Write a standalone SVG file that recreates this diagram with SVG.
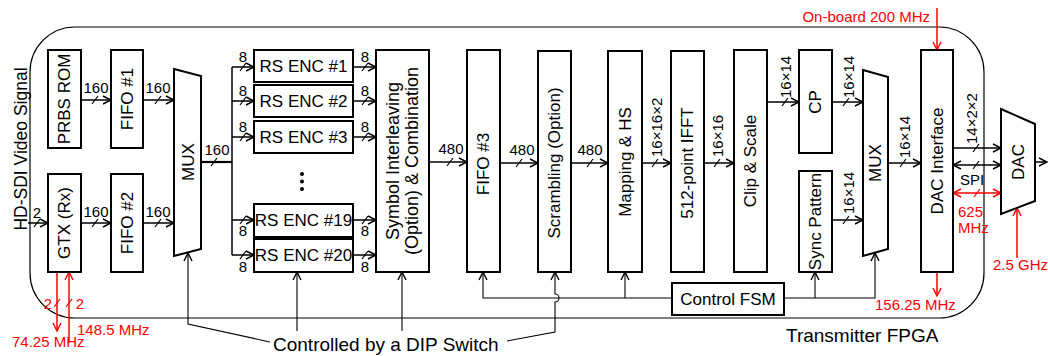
<svg xmlns="http://www.w3.org/2000/svg" width="1048" height="356" viewBox="0 0 1048 356">
<defs>
<style>
text{font-family:"Liberation Sans",Arial,sans-serif;fill:#000}
.bt{font-size:17px;text-anchor:middle;dominant-baseline:central}
.lb{font-size:15px;text-anchor:middle}
.rl{font-size:15px}
.red{fill:#ff0000}
.box{fill:#fff;stroke:#000;stroke-width:2}
.c{fill:none;stroke:#000;stroke-width:1.5}
.cr{fill:none;stroke:#ff0000;stroke-width:1.5}
.t{fill:none;stroke:#000;stroke-width:1.1}
.sl{stroke:#000;stroke-width:1.2}
.slr{stroke:#ff0000;stroke-width:1.2}
</style>
<marker id="a" markerUnits="userSpaceOnUse" markerWidth="10" markerHeight="10" refX="9" refY="5" orient="auto-start-reverse"><path d="M1,1 L9,5 L1,9" fill="none" stroke="#000" stroke-width="1.4"/></marker>
<marker id="ar" markerUnits="userSpaceOnUse" markerWidth="10" markerHeight="10" refX="9" refY="5" orient="auto-start-reverse"><path d="M1,1 L9,5 L1,9" fill="none" stroke="#ff0000" stroke-width="1.4"/></marker>
</defs>
<rect width="1048" height="356" fill="#fff"/>
<g id="fpga"><rect x="30" y="27" width="954" height="291" rx="45" ry="45" fill="none" stroke="#000" stroke-width="1.2"/>
<text x="786" y="342" style="font-size:19px">Transmitter FPGA</text></g>
<g id="connectors">
<path class="c" d="M28,223 H48" marker-end="url(#a)"/>
<path class="c" d="M81,100 H111" marker-end="url(#a)"/>
<path class="c" d="M143,100 H174" marker-end="url(#a)"/>
<path class="c" d="M81,223 H111" marker-end="url(#a)"/>
<path class="c" d="M143,223 H174" marker-end="url(#a)"/>
<path d="M201,162 H232" fill="none" stroke="#000" stroke-width="2.2"/>
<path class="c" d="M232,67 V255"/>
<path class="c" d="M232,67 H254" marker-end="url(#a)"/>
<path class="c" d="M232,101 H254" marker-end="url(#a)"/>
<path class="c" d="M232,137 H254" marker-end="url(#a)"/>
<path class="c" d="M232,220 H254" marker-end="url(#a)"/>
<path class="c" d="M232,255 H254" marker-end="url(#a)"/>
<path class="c" d="M353,67 H376" marker-end="url(#a)"/>
<path class="c" d="M353,101 H376" marker-end="url(#a)"/>
<path class="c" d="M353,137 H376" marker-end="url(#a)"/>
<path class="c" d="M353,220 H376" marker-end="url(#a)"/>
<path class="c" d="M353,255 H376" marker-end="url(#a)"/>
<path class="c" d="M429,162 H467" marker-end="url(#a)"/>
<path class="c" d="M500,163 H538" marker-end="url(#a)"/>
<path class="c" d="M571,163 H608" marker-end="url(#a)"/>
<path class="c" d="M642,163 H671" marker-end="url(#a)"/>
<path class="c" d="M704,163 H734" marker-end="url(#a)"/>
<path class="c" d="M767,102 H799" marker-end="url(#a)"/>
<path class="c" d="M832,102 H863" marker-end="url(#a)"/>
<path class="c" d="M832,220 H863" marker-end="url(#a)"/>
<path class="c" d="M888,163 H921" marker-end="url(#a)"/>
<path class="c" d="M953,148 H1001" marker-end="url(#a)"/>
<path class="c" d="M953,165 H1001" marker-start="url(#a)" marker-end="url(#a)"/>
<path class="cr" d="M953,193 H1001" marker-start="url(#ar)" marker-end="url(#ar)"/>
<path class="c" d="M1035,162 H1047" marker-end="url(#a)"/>
<path class="cr" d="M937,8 V50" marker-end="url(#ar)"/>
<path class="cr" d="M937,272 V296" marker-end="url(#ar)"/>
<path class="cr" d="M1017,258 V208" marker-end="url(#ar)"/>
<path class="cr" d="M57,272 V331" marker-end="url(#ar)"/>
<path class="cr" d="M69,343 V272" marker-end="url(#ar)"/>
<path class="t" d="M672,298 H483 V272" marker-end="url(#a)"/>
<path class="t" d="M625,298 V272" marker-end="url(#a)"/>
<path class="t" d="M784,298 H875 V253" marker-end="url(#a)"/>
<path class="t" d="M815,298 V272" marker-end="url(#a)"/>
<path class="t" d="M270,342 L188,324 V253" marker-end="url(#a)"/>
<path class="t" d="M297,331 V272" marker-end="url(#a)"/>
<path class="t" d="M402,331 V272" marker-end="url(#a)"/>
<path class="t" d="M507,341 L555,332 V302 A4,4 0 0 0 555,294 V272" marker-end="url(#a)"/>
<g>
<line class="sl" x1="92" y1="104" x2="98" y2="96"/>
<line class="sl" x1="155" y1="104" x2="161" y2="96"/>
<line class="sl" x1="92" y1="227" x2="98" y2="219"/>
<line class="sl" x1="155" y1="227" x2="161" y2="219"/>
<line class="sl" x1="34" y1="227" x2="40" y2="219"/>
<line class="sl" x1="211" y1="166" x2="217" y2="158"/>
<line class="sl" x1="240" y1="71" x2="246" y2="63"/>
<line class="sl" x1="240" y1="105" x2="246" y2="97"/>
<line class="sl" x1="240" y1="141" x2="246" y2="133"/>
<line class="sl" x1="240" y1="224" x2="246" y2="216"/>
<line class="sl" x1="240" y1="259" x2="246" y2="251"/>
<line class="sl" x1="362" y1="71" x2="368" y2="63"/>
<line class="sl" x1="362" y1="105" x2="368" y2="97"/>
<line class="sl" x1="362" y1="141" x2="368" y2="133"/>
<line class="sl" x1="362" y1="224" x2="368" y2="216"/>
<line class="sl" x1="362" y1="259" x2="368" y2="251"/>
<line class="sl" x1="447" y1="166" x2="453" y2="158"/>
<line class="sl" x1="516" y1="167" x2="522" y2="159"/>
<line class="sl" x1="587" y1="167" x2="593" y2="159"/>
<line class="sl" x1="652" y1="167" x2="658" y2="159"/>
<line class="sl" x1="714" y1="167" x2="720" y2="159"/>
<line class="sl" x1="782" y1="106" x2="788" y2="98"/>
<line class="sl" x1="843" y1="106" x2="849" y2="98"/>
<line class="sl" x1="843" y1="224" x2="849" y2="216"/>
<line class="sl" x1="900" y1="167" x2="906" y2="159"/>
<line class="sl" x1="973" y1="152" x2="979" y2="144"/>
<line class="sl" x1="973" y1="169" x2="979" y2="161"/>
<line class="slr" x1="974" y1="197" x2="980" y2="189"/>
<line class="slr" x1="54" y1="307" x2="60" y2="299"/>
<line class="slr" x1="66" y1="307" x2="72" y2="299"/>
</g>
</g>
<g id="labels">
<text class="lb" x="96" y="93">160</text>
<text class="lb" x="158" y="93">160</text>
<text class="lb" x="96" y="217">160</text>
<text class="lb" x="158" y="217">160</text>
<text class="lb" x="37" y="218">2</text>
<text class="lb" x="217" y="155">160</text>
<text class="lb" x="243" y="62">8</text>
<text class="lb" x="243" y="96">8</text>
<text class="lb" x="243" y="132">8</text>
<text class="lb" x="243" y="236">8</text>
<text class="lb" x="243" y="272">8</text>
<text class="lb" x="365" y="62">8</text>
<text class="lb" x="365" y="96">8</text>
<text class="lb" x="365" y="132">8</text>
<text class="lb" x="365" y="236">8</text>
<text class="lb" x="365" y="272">8</text>
<text class="lb" x="451" y="154">480</text>
<text class="lb" x="522" y="155">480</text>
<text class="lb" x="590" y="155">480</text>
<text class="rl" transform="translate(662,157) rotate(-90)">16×16×2</text>
<text class="rl" transform="translate(723,157) rotate(-90)">16×16</text>
<text class="rl" transform="translate(791,98) rotate(-90)">16×14</text>
<text class="rl" transform="translate(854,98) rotate(-90)">16×14</text>
<text class="rl" transform="translate(854,214) rotate(-90)">16×14</text>
<text class="rl" transform="translate(910,158) rotate(-90)">16×14</text>
<text class="rl" transform="translate(977,144) rotate(-90)">14×2×2</text>
<text class="rl" x="960" y="185">SPI</text>
<text transform="translate(27,149) rotate(-90)" style="font-size:17.5px;text-anchor:middle">HD-SDI Video Signal</text>
<text x="273" y="351" style="font-size:19px">Controlled by a DIP Switch</text>
<g class="red">
<text class="rl red" x="930" y="22" text-anchor="end">On-board 200 MHz</text>
<text class="rl red" x="875" y="310">156.25 MHz</text>
<text class="rl red" x="12" y="347">74.25 MHz</text>
<text class="rl red" x="77" y="335">148.5 MHz</text>
<text class="rl red" x="993" y="270">2.5 GHz</text>
<text class="rl red" x="958" y="217">625</text>
<text class="rl red" x="958" y="233">MHz</text>
<text class="lb red" x="48" y="309">2</text>
<text class="lb red" x="80" y="309">2</text>
</g>
</g>
<g id="prbs"><rect class="box" x="48" y="50" width="33" height="98"/><text class="bt" transform="translate(64.5,99) rotate(-90)">PRBS ROM</text></g>
<g id="gtx"><rect class="box" x="48" y="174" width="33" height="98"/><text class="bt" transform="translate(64.5,223) rotate(-90)">GTX (Rx)</text></g>
<g id="fifo1"><rect class="box" x="111" y="50" width="32" height="98"/><text class="bt" transform="translate(127,99) rotate(-90)">FIFO #1</text></g>
<g id="fifo2"><rect class="box" x="111" y="174" width="32" height="98"/><text class="bt" transform="translate(127,223) rotate(-90)">FIFO #2</text></g>
<g id="mux1"><path class="box" d="M174,69 L201,76 L201,249 L174,256 Z"/><text class="bt" transform="translate(188,162) rotate(-90)">MUX</text></g>
<g id="rs1"><rect class="box" x="254" y="50" width="99" height="32"/><text class="bt" x="303.5" y="66.5">RS ENC #1</text></g>
<g id="rs2"><rect class="box" x="254" y="85" width="99" height="32"/><text class="bt" x="303.5" y="101.5">RS ENC #2</text></g>
<g id="rs3"><rect class="box" x="254" y="121" width="99" height="32"/><text class="bt" x="303.5" y="137.5">RS ENC #3</text></g>
<g id="dots"><circle cx="302" cy="174" r="2"/><circle cx="302" cy="181.5" r="2"/><circle cx="302" cy="189" r="2"/></g>
<g id="rs19"><rect class="box" x="254" y="204" width="99" height="33"/><text class="bt" x="303.5" y="220.5">RS ENC #19</text></g>
<g id="rs20"><rect class="box" x="254" y="239" width="99" height="33"/><text class="bt" x="303.5" y="255.5">RS ENC #20</text></g>
<g id="interleave"><rect class="box" x="376" y="50" width="53" height="222"/><text class="bt" transform="translate(402.5,161) rotate(-90)" style="font-size:18px"><tspan x="0" y="-10">Symbol Interleaving</tspan><tspan x="0" y="9">(Option) &amp; Combination</tspan></text></g>
<g id="fifo3"><rect class="box" x="467" y="50" width="33" height="222"/><text class="bt" transform="translate(483.5,164) rotate(-90)">FIFO #3</text></g>
<g id="scrambling"><rect class="box" x="538" y="51" width="33" height="221"/><text class="bt" transform="translate(554.5,163) rotate(-90)">Scrambling (Option)</text></g>
<g id="mapping"><rect class="box" x="608" y="51" width="34" height="221"/><text class="bt" transform="translate(625,162) rotate(-90)">Mapping &amp; HS</text></g>
<g id="ifft"><rect class="box" x="671" y="51" width="33" height="221"/><text class="bt" transform="translate(687.5,163) rotate(-90)">512-point IFFT</text></g>
<g id="clip"><rect class="box" x="734" y="50" width="33" height="222"/><text class="bt" transform="translate(750.5,161) rotate(-90)">Clip &amp; Scale</text></g>
<g id="cp"><rect class="box" x="799" y="50" width="33" height="103"/><text class="bt" transform="translate(815.5,102) rotate(-90)">CP</text></g>
<g id="sync"><rect class="box" x="799" y="171" width="33" height="101"/><text class="bt" transform="translate(815.5,221.5) rotate(-90)">Sync Pattern</text></g>
<g id="mux2"><path class="box" d="M863,70 L888,77 L888,249 L863,256 Z"/><text class="bt" transform="translate(875.5,163) rotate(-90)">MUX</text></g>
<g id="dacif"><rect class="box" x="921" y="50" width="32" height="222"/><text class="bt" transform="translate(937,161) rotate(-90)">DAC Interface</text></g>
<g id="dac"><path class="box" d="M1001,109 L1035,124 L1035,201 L1001,214 Z"/><text class="bt" transform="translate(1018,162) rotate(-90)">DAC</text></g>
<g id="fsm"><rect class="box" x="672" y="283" width="112" height="32"/><text class="bt" x="728" y="299">Control FSM</text></g>
</svg>
